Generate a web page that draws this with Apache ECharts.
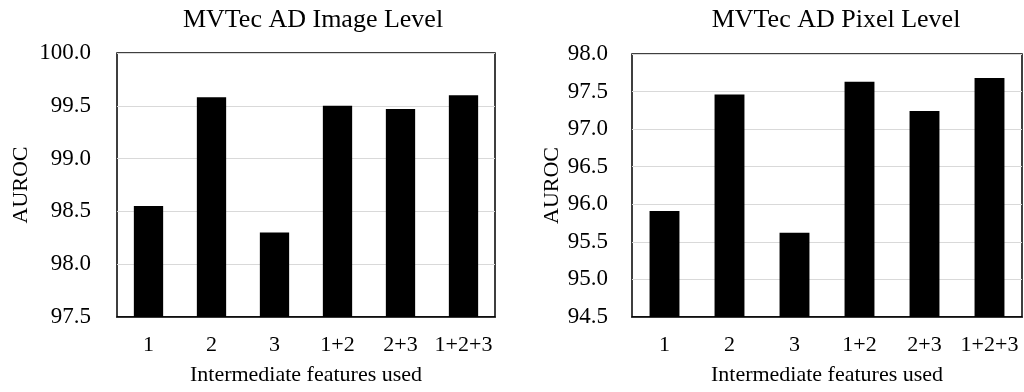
<!DOCTYPE html>
<html>
<head>
<meta charset="utf-8">
<script src="https://cdn.jsdelivr.net/npm/echarts@6/dist/echarts.min.js"></script>
<style>
html,body{margin:0;padding:0;background:#fff;}
#c{width:1024px;height:392px;}
</style>
</head>
<body>
<div id="c"></div>
<script>
const categories = ['1', '2', '3', '1+2', '2+3', '1+2+3'];
const imageLevel = [98.55, 99.58, 98.30, 99.50, 99.47, 99.60];
const pixelLevel = [95.91, 97.46, 95.62, 97.63, 97.24, 97.68];
const titles = ['MVTec AD Image Level', 'MVTec AD Pixel Level'];
const yName = 'AUROC';
const xName = 'Intermediate features used';

const FONT = '"Liberation Serif", "Times New Roman", serif';
const chart = echarts.init(document.getElementById('c'), null, {renderer: 'canvas'});

function xAxis(gi) {
  return {
    gridIndex: gi, type: 'category', data: categories,
    axisLine: {show: true, lineStyle: {color: '#000', width: 1.5}},
    axisTick: {show: false},
    axisLabel: {color: '#000', fontFamily: FONT, fontSize: 22, margin: 17, interval: 0},
    name: xName, nameLocation: 'middle', nameGap: 47,
    nameTextStyle: {color: '#000', fontFamily: FONT, fontSize: 22}
  };
}
function yAxis(gi, min, max, gap, lm) {
  return {
    gridIndex: gi, type: 'value', min: min, max: max, interval: 0.5,
    axisLine: {show: false}, axisTick: {show: false},
    axisLabel: {color: '#000', fontFamily: FONT, fontSize: 23, margin: lm,
      formatter: v => v.toFixed(1)},
    splitLine: {show: true, lineStyle: {color: '#d9d9d9', width: 1.2}},
    name: yName, nameLocation: 'middle', nameGap: gap, nameRotate: 90,
    nameTextStyle: {color: '#000', fontFamily: FONT, fontSize: 22}
  };
}

chart.setOption({
  animation: false,
  backgroundColor: '#fff',
  title: [
    {text: titles[0], left: 308, top: 2, textAlign: 'center',
     textStyle: {color: '#000', fontFamily: FONT, fontSize: 26, fontWeight: 'normal'}},
    {text: titles[1], left: 831, top: 2, textAlign: 'center',
     textStyle: {color: '#000', fontFamily: FONT, fontSize: 26, fontWeight: 'normal'}}
  ],
  grid: [
    {left: 117, top: 53, width: 378, height: 264, show: true, borderColor: '#000', borderWidth: 1.5, backgroundColor: 'transparent'},
    {left: 632, top: 54, width: 390, height: 263, show: true, borderColor: '#000', borderWidth: 1.5, backgroundColor: 'transparent'}
  ],
  xAxis: [xAxis(0), xAxis(1)],
  yAxis: [yAxis(0, 97.5, 100, 85, 26), yAxis(1, 94.5, 98, 69, 24)],
  series: [
    {type: 'bar', xAxisIndex: 0, yAxisIndex: 0, data: imageLevel, barWidth: '46.5%',
     itemStyle: {color: '#000'}},
    {type: 'bar', xAxisIndex: 1, yAxisIndex: 1, data: pixelLevel, barWidth: '46%',
     itemStyle: {color: '#000'}}
  ]
});
</script>
</body>
</html>
